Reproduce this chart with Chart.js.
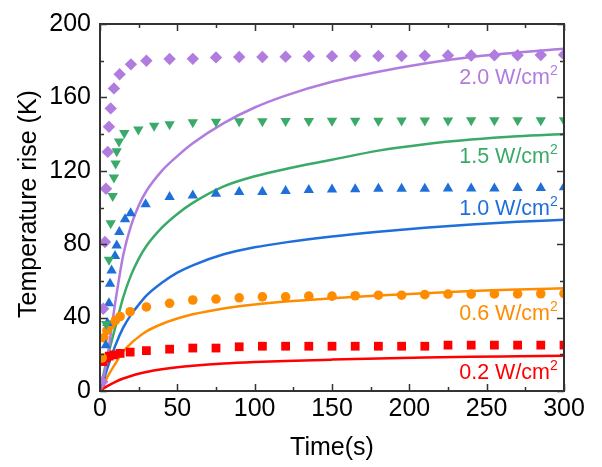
<!DOCTYPE html>
<html>
<head>
<meta charset="utf-8">
<script src="https://cdn.jsdelivr.net/npm/chart.js@4/dist/chart.umd.min.js"></script>
<style>
  body { margin: 0; background: #fff; }
</style>
</head>
<body>
<canvas id="chart1" width="602" height="467"></canvas>
<script>

// MEASURED POINTS (time in s, temperature rise in K)

let laterTimes = [45, 60, 75, 90, 105, 120, 135, 150, 165, 180, 195, 210, 225, 240, 255, 270, 285, 300];

let purpleTimes = [1.5, 2.1, 3.2, 3.9, 5, 5.8, 6.9, 9, 12.7, 20, 30].concat(laterTimes);
let purpleRise = [5, 44.8, 81.2, 110.2, 130.3, 144, 154, 164.9, 172.6, 178, 180,
	180.9, 181, 181.8, 182, 182, 182.2, 182.4, 182.4, 182.6, 182.6, 182.6, 182.7, 182.8, 182.8, 183, 183, 183.1, 183.3];

let greenTimes = [4, 5.8, 6.9, 8.2, 9, 10.1, 10.8, 12.3, 15.7, 24.8, 35].concat(laterTimes);
let greenRise = [36.5, 71.5, 91.4, 106.3, 116.4, 124, 130.6, 136, 140.6, 142.5, 144.5,
	145.3, 146.4, 146.7, 147, 147, 147.2, 147.2, 147.3, 147.3, 147.3, 147.4, 147.4, 147.4, 147.5, 147.5, 147.5, 147.5, 147.6];

let blueTimes = [3.8, 4.8, 5.8, 6.5, 7.5, 9.7, 10.8, 12.5, 16.2, 19.8, 29.5].concat(laterTimes);
let blueRise = [25, 37, 47.8, 58.4, 65.6, 73.6, 79.3, 86.6, 93.6, 96.8, 101.8,
	105.7, 106.5, 107.5, 108.4, 108.4, 109, 109.5, 109.8, 110, 110.2, 110.2, 110.2, 110.4, 110.4, 110.4, 110.6, 110.6, 111];

let orangeTimes = [1.5, 2.5, 4.5, 7, 10, 13, 19.5, 30].concat(laterTimes);
let orangeRise = [18, 29, 33, 36, 38.5, 40.6, 43.2, 45.8,
	47.8, 49.6, 50.1, 50.8, 51.3, 51.3, 51.7, 51.7, 51.9, 52.2, 52.2, 52.5, 52.8, 52.8, 52.9, 52.9, 53, 53.1];

let redTimes = [0.5, 2, 4, 6, 9, 13, 19.5, 30].concat(laterTimes);
let redRise = [5, 16, 18, 19, 19.7, 20.5, 21.2, 22,
	22.8, 23.4, 23.4, 24.1, 24.4, 24.4, 24.4, 24.4, 24.4, 24.4, 24.4, 24.4, 25, 25, 25, 25, 25, 25];

// MODEL CURVES

let fitTimes = [0, 2, 5, 10, 15, 20, 25, 30, 40, 50, 60, 80, 100, 120, 150, 180, 210, 240, 270, 300];
let purpleFit = [0, 6, 20, 49, 74, 90, 101, 109, 120, 128, 135, 146, 154.5, 161, 168.5, 174, 178.5, 182, 184.5, 186.5];
let greenFit = [0, 8, 19, 35, 51, 63, 72, 79, 89, 96.5, 102.5, 111.5, 117, 121, 126, 131, 134.5, 137, 138.8, 140];
let blueFit = [0, 5, 13, 25, 34.5, 41.5, 47, 52, 59, 64.5, 68.5, 74.5, 78.3, 81, 84.2, 86.8, 89, 90.8, 92.2, 93.3];
let orangeFit = [0, 3, 8, 15, 21.5, 26, 29.5, 32.5, 36.5, 39.5, 41.8, 45, 47.2, 48.8, 50.5, 52, 53.3, 54.5, 55.3, 56];
let redFit = [0, 1.2, 2.8, 5, 6.8, 8.2, 9.4, 10.4, 11.9, 13, 13.8, 15, 15.8, 16.4, 17.1, 17.7, 18.2, 18.6, 18.9, 19.2];

// series labels: text, time of right edge, rise at baseline
let seriesLabels = ["2.0 W/cm", "1.5 W/cm", "1.0 W/cm", "0.6 W/cm", "0.2 W/cm"];
let labelTime = 296;
let labelRise = [167.2, 124.4, 95.9, 38.9, 6.8];

let xTicks = [0, 50, 100, 150, 200, 250, 300];
let yTicks = [0, 40, 80, 120, 160, 200];

let colors = ['#B07CDE', '#3AAA68', '#1F6FDB', '#FF8C00', '#FF0000'];


function toPoints(times, values){
	let pts = [];
	for (let i = 0; i < times.length; i++){
		pts.push({x: times[i], y: values[i]});
	}
	return pts;
}

function markerSet(times, values, color, style, radius, rotation){
	return {
		data: toPoints(times, values),
		backgroundColor: color,
		borderColor: color,
		pointStyle: style,
		pointRadius: radius,
		pointRotation: rotation || 0,
		pointBorderWidth: 0,
		showLine: false,
		order: 0
	};
}

function fitSet(values, color){
	return {
		data: toPoints(fitTimes, values),
		borderColor: color,
		backgroundColor: color,
		borderWidth: 2.5,
		pointRadius: 0,
		showLine: true,
		cubicInterpolationMode: 'monotone',
		order: 1
	};
}

const FONT = "Arial, 'Liberation Sans', sans-serif";

// frame with inward ticks on all four sides + colored labels
let framePlugin = {
	id: 'frame',
	afterDatasetsDraw(chart){
		let ctx = chart.ctx;
		let a = chart.chartArea;
		let xs = chart.scales.x, ys = chart.scales.y;
		ctx.save();
		ctx.strokeStyle = '#333';
		ctx.lineWidth = 2;
		ctx.strokeRect(a.left, a.top, a.right - a.left, a.bottom - a.top);
		ctx.lineWidth = 1.5;
		ctx.beginPath();
		for (let v = 0; v <= 300; v += 25){
			let px = Math.round(xs.getPixelForValue(v)) + 0.5;
			let len = (v % 50 === 0) ? 7 : 4;
			ctx.moveTo(px, a.bottom); ctx.lineTo(px, a.bottom - len);
			ctx.moveTo(px, a.top); ctx.lineTo(px, a.top + len);
		}
		for (let v = 0; v <= 200; v += 20){
			let py = Math.round(ys.getPixelForValue(v)) + 0.5;
			let len = (v % 40 === 0) ? 7 : 4;
			ctx.moveTo(a.left, py); ctx.lineTo(a.left + len, py);
			ctx.moveTo(a.right, py); ctx.lineTo(a.right - len, py);
		}
		ctx.stroke();

		// W/cm2 labels
		for (let i = 0; i < seriesLabels.length; i++){
			let xr = xs.getPixelForValue(labelTime);
			let yb = ys.getPixelForValue(labelRise[i]);
			ctx.fillStyle = colors[i];
			ctx.textBaseline = 'alphabetic';
			ctx.textAlign = 'right';
			ctx.font = "14px " + FONT;
			let supW = ctx.measureText("2").width;
			ctx.fillText("2", xr, yb - 9);
			ctx.font = "21.5px " + FONT;
			ctx.fillText(seriesLabels[i], xr - supW, yb);
		}
		ctx.restore();
	}
};

let ctx1 = document.getElementById('chart1');

let myChart1 = new Chart(ctx1, {
	type: 'scatter',
	data: {
		datasets: [
			markerSet(purpleTimes, purpleRise, colors[0], 'rectRot', 6.2),
			markerSet(greenTimes, greenRise, colors[1], 'triangle', 6, 180),
			markerSet(blueTimes, blueRise, colors[2], 'triangle', 6),
			markerSet(orangeTimes, orangeRise, colors[3], 'circle', 4.8),
			markerSet(redTimes, redRise, colors[4], 'rect', 6.2),
			fitSet(purpleFit, colors[0]),
			fitSet(greenFit, colors[1]),
			fitSet(blueFit, colors[2]),
			fitSet(orangeFit, colors[3]),
			fitSet(redFit, colors[4])
		]
	},
	options: {
		responsive: false,
		animation: false,
		devicePixelRatio: 1,
		layout: { padding: { top: 17, right: 38, left: 0, bottom: 0 } },
		plugins: {
			legend: { display: false },
			tooltip: { enabled: false }
		},
		scales: {
			x: {
				type: 'linear',
				min: 0, max: 300,
				afterBuildTicks: function(scale){
					scale.ticks = xTicks.map(v => ({value: v}));
				},
				afterFit: function(scale){ scale.height = 76; },
				grid: { display: false, drawTicks: false },
				border: { display: false },
				ticks: { padding: 3, color: '#000', font: { family: FONT, size: 25 } },
				title: {
					display: true, text: 'Time(s)', color: '#000',
					font: { family: FONT, size: 25 },
					padding: { top: 0, bottom: 4 }
				}
			},
			y: {
				type: 'linear',
				min: 0, max: 200,
				afterBuildTicks: function(scale){
					scale.ticks = yTicks.map(v => ({value: v}));
				},
				afterFit: function(scale){ scale.width = 100; },
				grid: { display: false, drawTicks: false },
				border: { display: false },
				ticks: { padding: 9, color: '#000', font: { family: FONT, size: 25 } },
				title: {
					display: true, text: ' Temperature rise (K)', color: '#000',
					font: { family: FONT, size: 25 },
					padding: { top: 14, bottom: 0 }
				}
			}
		}
	},
	plugins: [framePlugin]
});

</script>
</body>
</html>
